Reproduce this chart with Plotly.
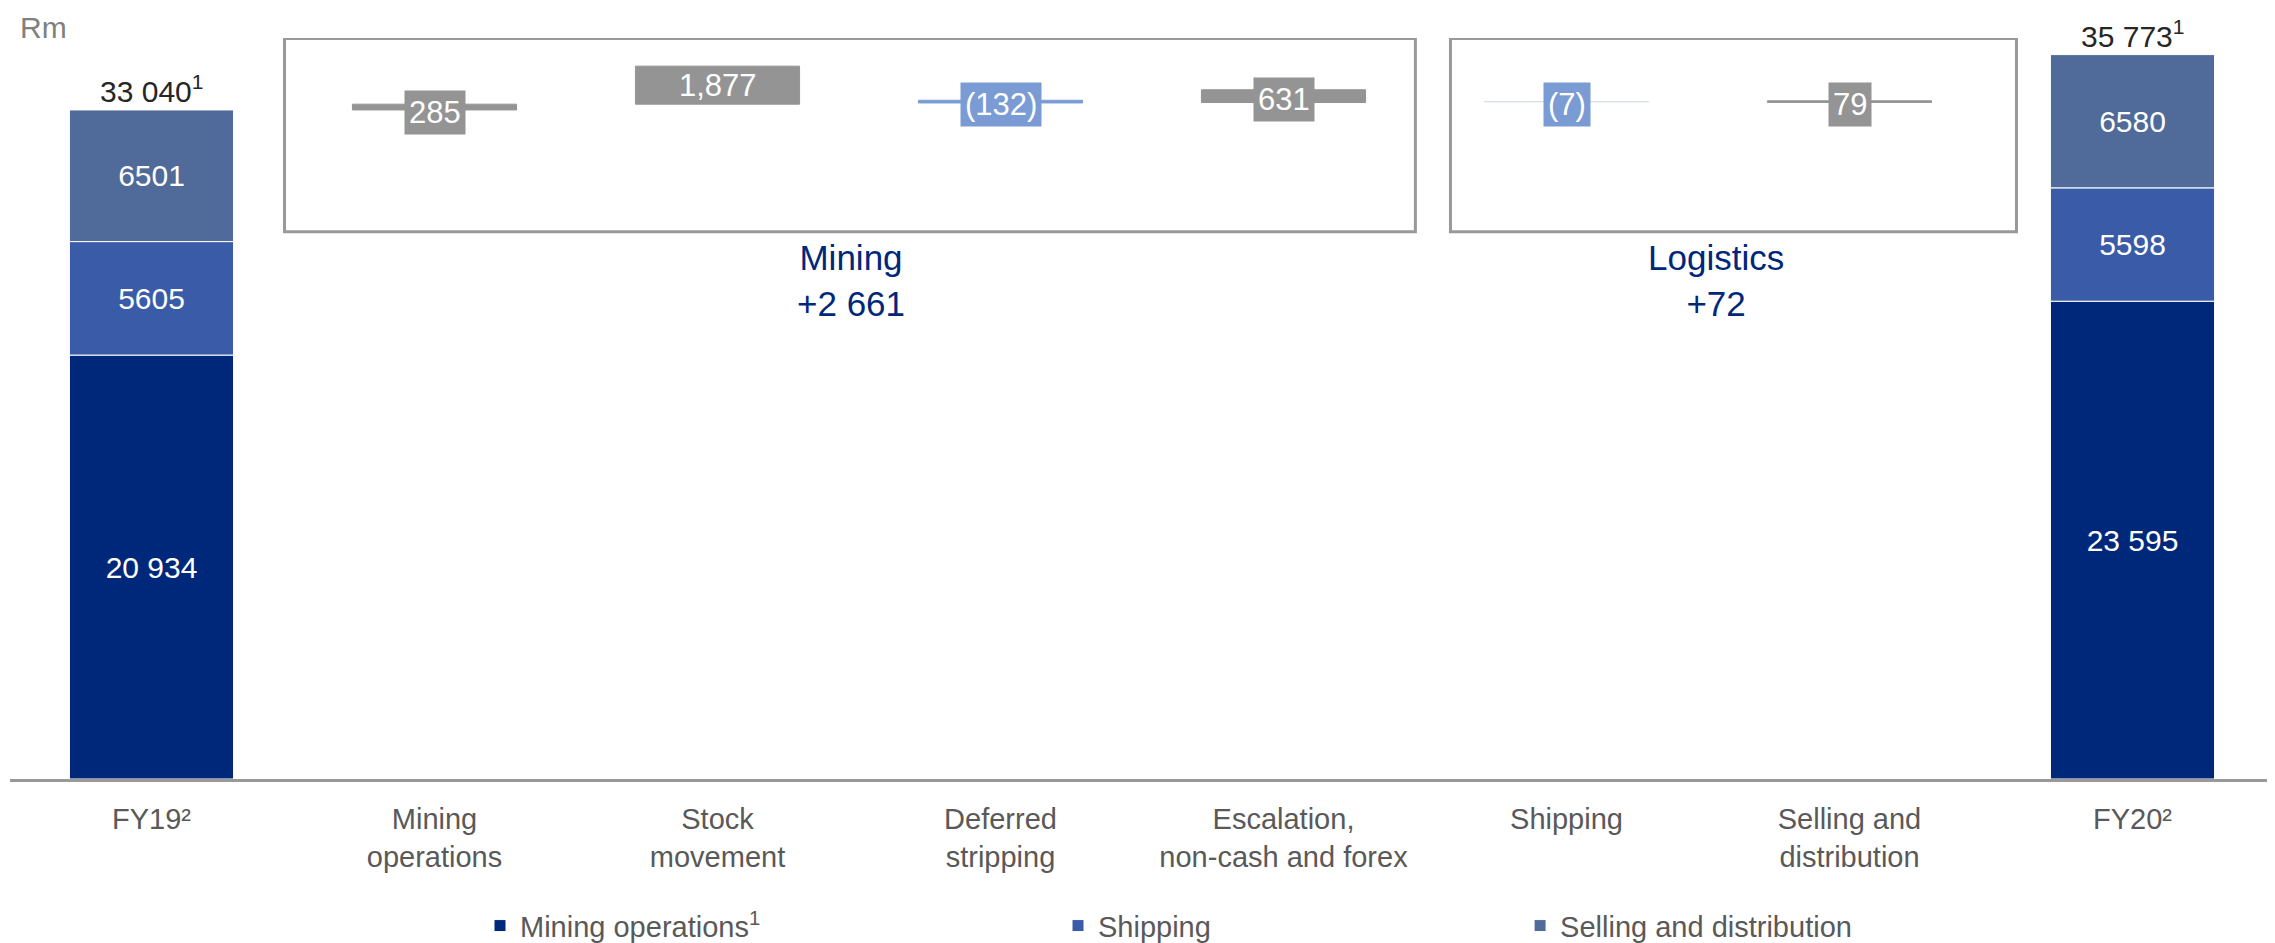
import plotly.graph_objects as go

# ---------------- data ----------------
categories = ["FY19²", "Mining<br>operations", "Stock<br>movement", "Deferred<br>stripping",
              "Escalation,<br>non-cash and forex", "Shipping", "Selling and<br>distribution", "FY20²"]
end_categories = ["FY19²", "FY20²"]
seg_names = ["Mining operations<sup>1</sup>", "Shipping", "Selling and distribution"]
seg_mining = [20934, 23595]
seg_shipping = [5605, 5598]
seg_selling = [6501, 6580]
totals_text = ["33 040<sup>1</sup>", "35 773<sup>1</sup>"]

step_categories = categories[1:7]
step_values = [285, 1877, -132, 631, -7, 79]
step_base = [33040, 33325, 33518, 33407, 33452, 33412]   # bar bases as placed in the picture
step_group = ["Mining", "Mining", "Mining", "Mining", "Logistics", "Logistics"]

# ---------------- styles ----------------
C_NAVY = "#00287A"
C_SHIP = "#3A5BA7"
C_SELL = "#506A99"
C_GREY = "#949494"
C_BLUE = "#7A9BD4"
C_LIGHT = "#D6DEE6"
step_fill = [C_GREY, C_GREY, C_BLUE, C_GREY, C_LIGHT, C_GREY]
step_line = [C_GREY, C_GREY, C_BLUE, C_GREY, C_LIGHT, C_GREY]
step_label_bg = [C_GREY, "rgba(0,0,0,0)", C_BLUE, C_GREY, C_BLUE, C_GREY]
step_label_shift = [-5, 0, -3, -3, -3, -3]
FONT = "Liberation Sans, Arial, sans-serif"


def seg_fmt(v):
    return f"{v:,}".replace(",", " ") if v >= 10000 else str(v)


def step_fmt(v):
    return f"({abs(v):,})" if v < 0 else f"{v:,}"


fig = go.Figure()

bases_ship = seg_mining
bases_sell = [a + b for a, b in zip(seg_mining, seg_shipping)]
seg_data = [(seg_mining, [0, 0], C_NAVY, "legend"),
            (seg_shipping, bases_ship, C_SHIP, "legend2"),
            (seg_selling, bases_sell, C_SELL, "legend3")]
for (vals, base, col, lg), name in zip(seg_data, seg_names):
    fig.add_trace(go.Bar(
        x=end_categories, y=vals, base=base, name=name, legend=lg,
        marker=dict(color=col, line=dict(color="white", width=1)),
        text=[seg_fmt(v) for v in vals], textposition="inside",
        insidetextanchor="middle", constraintext="none",
        textfont=dict(color="white", size=30, family=FONT),
        hoverinfo="skip"))

fig.add_trace(go.Bar(
    x=step_categories, y=step_values, base=step_base, showlegend=False,
    marker=dict(color=step_fill, line=dict(color=step_line, width=1)),
    hoverinfo="skip"))

annotations = []
# totals above the end bars
for cat, m, s, sl, t in zip(end_categories, seg_mining, seg_shipping, seg_selling, totals_text):
    annotations.append(dict(x=cat, y=m + s + sl, xref="x", yref="y", text=t, showarrow=False,
                            yanchor="bottom", yshift=0,
                            font=dict(size=30, color="#262626", family=FONT)))
# step labels
for cat, v, b, bg, sh in zip(step_categories, step_values, step_base, step_label_bg, step_label_shift):
    annotations.append(dict(x=cat, y=b + v / 2, xref="x", yref="y", text=step_fmt(v),
                            showarrow=False, bgcolor=bg, borderpad=4, yshift=sh,
                            font=dict(size=31, color="white", family=FONT)))
# group totals
mining_total = sum(v for v, g in zip(step_values, step_group) if g == "Mining")
log_total = sum(v for v, g in zip(step_values, step_group) if g == "Logistics")
annotations.append(dict(x=2.47, y=0.733, xref="x", yref="paper", yanchor="top",
                        text="Mining<br>" + "+" + f"{mining_total:,}".replace(",", " "),
                        showarrow=False, font=dict(size=35, color=C_NAVY, family=FONT)))
annotations.append(dict(x=5.53, y=0.733, xref="x", yref="paper", yanchor="top",
                        text="Logistics<br>" + "+" + f"{log_total:,}".replace(",", " "),
                        showarrow=False, font=dict(size=35, color=C_NAVY, family=FONT)))
# unit label
annotations.append(dict(x=0.0035, y=1.0395, xref="paper", yref="paper", xanchor="left", yanchor="top",
                        text="Rm", showarrow=False, font=dict(size=30, color="#808080", family=FONT)))

shapes = [
    dict(type="rect", xref="x", yref="y", x0=0.47, x1=4.466, y0=27030, y1=36570,
         line=dict(color="#999999", width=3), fillcolor="rgba(0,0,0,0)", layer="below"),
    dict(type="rect", xref="x", yref="y", x0=4.59, x1=6.59, y0=27030, y1=36570,
         line=dict(color="#999999", width=3), fillcolor="rgba(0,0,0,0)", layer="below"),
]

legend_common = dict(orientation="h", yanchor="middle", y=-0.198, xanchor="left",
                     font=dict(size=29, color="#595959", family=FONT),
                     bgcolor="rgba(0,0,0,0)", itemclick=False, itemdoubleclick=False)

# the page body adds an 8px offset, so the figure is 8px smaller than the window
fig.update_layout(
    width=2267, height=935,
    margin=dict(l=2, r=1, t=30, b=164, autoexpand=False),
    paper_bgcolor="white", plot_bgcolor="white",
    barmode="overlay", bargap=0.42,
    font=dict(family=FONT, color="#595959"),
    xaxis=dict(type="category", categoryorder="array", categoryarray=categories,
               range=[-0.5, 7.5], showline=True, linecolor="#999999", linewidth=3,
               ticks="", showgrid=False, zeroline=False, ticklabelstandoff=12,
               automargin=False,
               tickfont=dict(size=29, color="#595959", family=FONT)),
    yaxis=dict(range=[0, 36593], visible=False, showgrid=False, zeroline=False,
               automargin=False),
    annotations=annotations, shapes=shapes,
    legend=dict(x=0.2076, **legend_common),
    legend2=dict(x=0.4629, **legend_common),
    legend3=dict(x=0.667, **legend_common),
)

fig.write_html("out.html")
